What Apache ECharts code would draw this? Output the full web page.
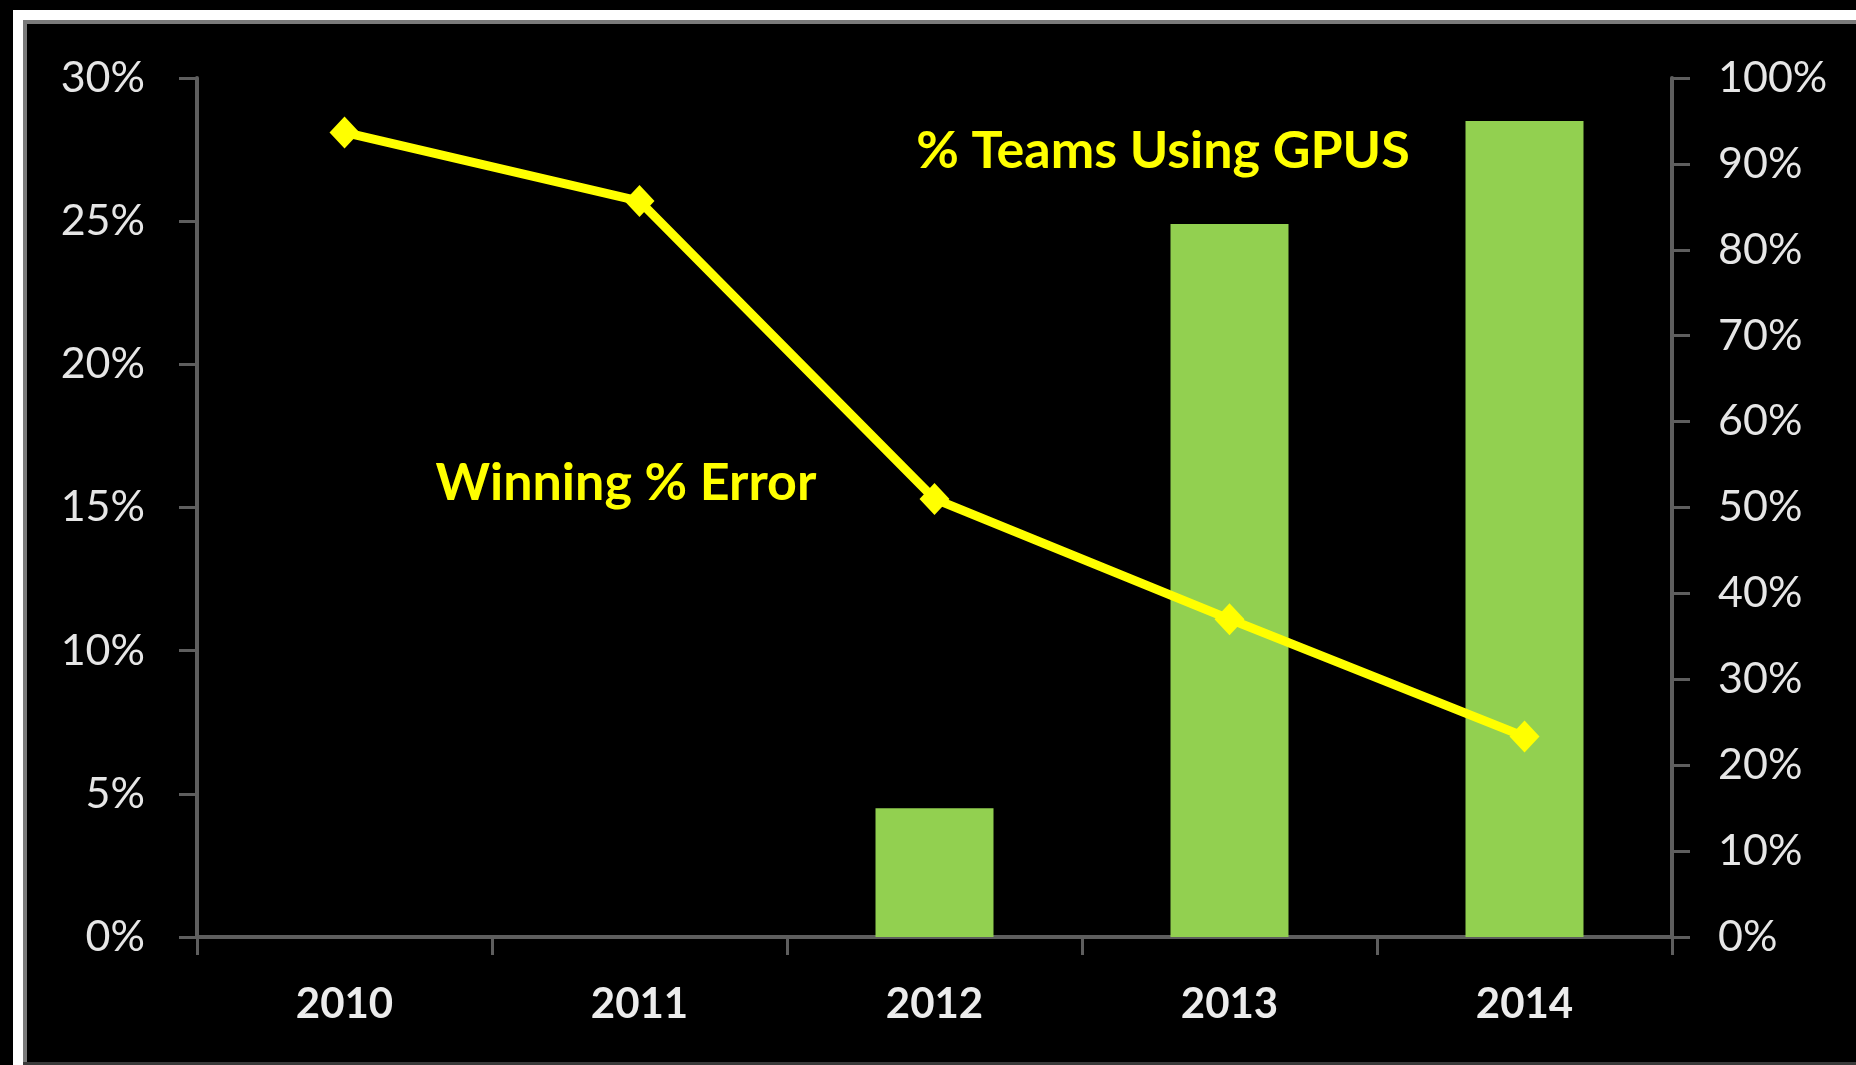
<!DOCTYPE html>
<html>
<head>
<meta charset="utf-8">
<title>ImageNet error vs GPU teams</title>
<script src="https://cdn.jsdelivr.net/npm/echarts@6/dist/echarts.min.js"></script>
<style>
  html, body { margin: 0; padding: 0; background: #000; }
  #myEcharts { width: 1856px; height: 1065px; }
</style>
</head>
<body>
<div id="myEcharts"></div>
<script>
// data
var years = ['2010', '2011', '2012', '2013', '2014'];
var winningError = [28.1, 25.7, 15.3, 11.1, 7.0];      // left axis, %
var teamsUsingGpus = [null, null, 15.0, 83.0, 95.0];   // right axis, %
var leftTicks = [0, 30, 5];    // min, max, interval
var rightTicks = [0, 100, 10];

var axisGray = '#5e5e5e';
var font = 'Lato, "Open Sans", sans-serif';

var myChart = echarts.init(document.getElementById('myEcharts'));

myChart.setOption({
  backgroundColor: '#000',
  animation: false,
  grid: { left: 197, right: 184, top: 78, bottom: 128, containLabel: false },
  xAxis: [{
    type: 'category',
    data: years,
    boundaryGap: true,
    axisLine: { show: true, lineStyle: { color: axisGray, width: 4 } },
    axisTick: { show: true, length: 18, alignWithLabel: false, lineStyle: { color: axisGray, width: 3 } },
    axisLabel: { color: '#ececec', fontFamily: font, fontWeight: 'bold', fontSize: 42, margin: 46 }
  }],
  yAxis: [
    {
      type: 'value',
      position: 'left',
      min: leftTicks[0], max: leftTicks[1], interval: leftTicks[2],
      splitLine: { show: false },
      axisLine: { show: true, lineStyle: { color: axisGray, width: 4 } },
      axisTick: { show: true, length: 18, lineStyle: { color: axisGray, width: 3 } },
      axisLabel: { color: '#e6e6e6', fontFamily: font, fontSize: 43, margin: 52, formatter: '{value}%' }
    },
    {
      type: 'value',
      position: 'right',
      min: rightTicks[0], max: rightTicks[1], interval: rightTicks[2],
      splitLine: { show: false },
      axisLine: { show: true, lineStyle: { color: axisGray, width: 4 } },
      axisTick: { show: true, length: 18, lineStyle: { color: axisGray, width: 3 } },
      axisLabel: { color: '#e6e6e6', fontFamily: font, fontSize: 43, margin: 46, formatter: '{value}%' }
    }
  ],
  series: [
    {
      name: '% Teams Using GPUS',
      type: 'bar',
      yAxisIndex: 1,
      barWidth: '40%',
      itemStyle: { color: '#92d050' },
      data: teamsUsingGpus,
      z: 2
    },
    {
      name: 'Winning % Error',
      type: 'line',
      yAxisIndex: 0,
      symbol: 'diamond',
      symbolSize: [30, 32],
      lineStyle: { color: '#ffff00', width: 9 },
      itemStyle: { color: '#ffff00' },
      data: winningError,
      z: 3
    }
  ],
  graphic: [
    // white frame top + left
    { type: 'rect', shape: { x: 13, y: 10, width: 1843, height: 10 }, style: { fill: '#ffffff' }, silent: true },
    { type: 'rect', shape: { x: 13, y: 10, width: 10, height: 1055 }, style: { fill: '#ffffff' }, silent: true },
    { type: 'rect', shape: { x: 23, y: 20, width: 4, height: 1045 }, style: { fill: '#7a7a7a' }, silent: true },
    { type: 'rect', shape: { x: 23, y: 20, width: 1833, height: 4 }, style: { fill: '#7a7a7a' }, silent: true },
    { type: 'rect', shape: { x: 23, y: 1062, width: 1833, height: 3 }, style: { fill: '#3a3a3a' }, silent: true },
    // series annotations
    {
      type: 'text', x: 626, y: 483, silent: true,
      style: { text: 'Winning % Error', fill: '#ffff00', font: 'bold 52px ' + font, align: 'center', verticalAlign: 'middle' }
    },
    {
      type: 'text', x: 1163, y: 151, silent: true,
      style: { text: '% Teams Using GPUS', fill: '#ffff00', font: 'bold 52px ' + font, align: 'center', verticalAlign: 'middle' }
    }
  ]
});
</script>
</body>
</html>
